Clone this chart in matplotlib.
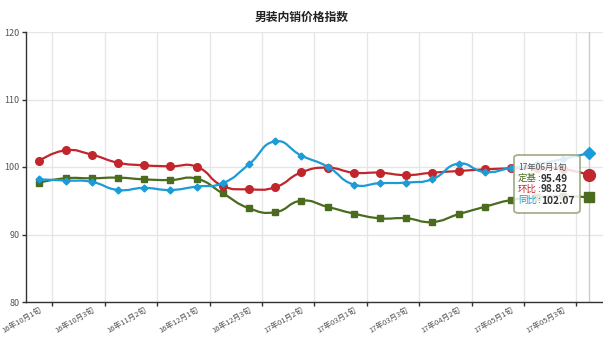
import numpy as np
import matplotlib.pyplot as plt
from matplotlib.path import Path
from matplotlib.patches import PathPatch, FancyBboxPatch

plt.rcParams['font.family'] = ['Noto Sans CJK SC', 'DejaVu Sans']

# ── 数据 ───────────────────────────────────────────────
periods = ['16年10月1旬', '16年10月2旬', '16年10月3旬', '16年11月1旬', '16年11月2旬',
           '16年11月3旬', '16年12月1旬', '16年12月2旬', '16年12月3旬', '17年01月1旬',
           '17年01月2旬', '17年01月3旬', '17年03月1旬', '17年03月2旬', '17年03月3旬',
           '17年04月1旬', '17年04月2旬', '17年04月3旬', '17年05月1旬', '17年05月2旬',
           '17年05月3旬', '17年06月1旬']
dingji = [97.70, 98.33, 98.33, 98.42, 98.17, 98.07, 98.27, 96.10, 93.90, 93.30, 95.00,
          94.10, 93.10, 92.40, 92.40, 91.85, 93.00, 94.10, 95.10, 95.50, 95.70, 95.49]
huanbi = [100.93, 102.47, 101.83, 100.64, 100.25, 100.10, 100.05, 97.20, 96.70, 97.00, 99.20,
          99.90, 99.16, 99.16, 98.80, 99.16, 99.40, 99.65, 99.80, 99.90, 99.70, 98.82]
tongbi = [98.17, 98.00, 97.80, 96.60, 96.90, 96.60, 97.10, 97.60, 100.40, 103.80, 101.70,
          100.05, 97.40, 97.60, 97.70, 98.20, 100.50, 99.26, 99.85, 100.40, 101.20, 102.07]

series = [('定基', dingji, '#4b6b1f', 's', 5.0, 7.5),
          ('环比', huanbi, '#c0262c', 'o', 5.5, 8.5),
          ('同比', tongbi, '#1b9bd7', 'D', 3.5, 6.0)]

PX_X, PX_Y = 26.2, 6.75   # 每个类目/每个单位对应的像素


def smooth_path(ys, smooth=0.5):
    """ECharts 风格的三次贝塞尔平滑曲线"""
    pts = np.column_stack([np.arange(len(ys)) * PX_X, np.asarray(ys) * PX_Y])
    n = len(pts)
    cin, cout = pts.copy(), pts.copy()
    for i in range(1, n - 1):
        prev, cur, nxt = pts[i - 1], pts[i], pts[i + 1]
        v = nxt - prev
        d0 = np.hypot(*(cur - prev))
        d1 = np.hypot(*(nxt - cur))
        r = d1 / (d0 + d1)
        cout[i] = cur + v * smooth * r
        cin[i] = cur - v * smooth * (1 - r)
    verts = [pts[0]]
    codes = [Path.MOVETO]
    for i in range(n - 1):
        verts += [cout[i], cin[i + 1], pts[i + 1]]
        codes += [Path.CURVE4] * 3
    verts = np.array(verts) / [PX_X, PX_Y]
    return Path(verts, codes)


fig = plt.figure(figsize=(6.03, 3.40), dpi=100)
ax = fig.add_axes([26.2 / 603, 1 - 302 / 340, 576.4 / 603, 270 / 340])

x = np.arange(len(periods))
for z, (name, vals, color, mk, ms, ms_last) in enumerate(series):
    ax.add_patch(PathPatch(smooth_path(vals), facecolor='none', edgecolor=color,
                           lw=1.6, zorder=3 + z))
    ax.plot(x[:-1], vals[:-1], ls='none', marker=mk, ms=ms, color=color, zorder=3 + z)
    ax.plot(x[-1], vals[-1], ls='none', marker=mk, ms=ms_last, color=color, zorder=3 + z)

# 轴指示线
ax.axvline(x[-1], color='#cccccc', lw=1, zorder=2)

ax.set_xlim(-0.5, len(periods) - 0.5)
ax.set_ylim(80, 120)
ax.set_yticks([80, 90, 100, 110, 120])
ax.tick_params(axis='y', labelsize=6.5, labelcolor='#555555', length=3, width=1,
               color='#333333', pad=2)

# 类目边界刻度 + 隔一个显示的标签
ax.set_xticks(np.arange(0.5, len(periods) - 0.5, 2))
ax.tick_params(axis='x', which='major', labelbottom=False, length=3, width=1, color='#333333')
ax.set_xticks(x[::2], [periods[i] for i in x[::2]], minor=True)
ax.tick_params(axis='x', which='minor', length=0, labelsize=5.5, labelcolor='#555555', pad=3)
for lbl in ax.get_xticklabels(minor=True):
    lbl.set_rotation(30)
    lbl.set_ha('right')
    lbl.set_rotation_mode('anchor')

ax.grid(True, which='major', color='#e6e6e6', lw=1, zorder=0)
ax.set_axisbelow(True)
for s in ['top', 'right']:
    ax.spines[s].set_visible(False)
for s in ['left', 'bottom']:
    ax.spines[s].set_color('#333333')
    ax.spines[s].set_linewidth(1)

fig.text(0.5, 1 - 17 / 340, '男装内销价格指数', ha='center', va='center',
         fontsize=8.5, fontweight='bold', color='#222222')

# 提示框
W, H = 603, 340
box = FancyBboxPatch((514 / W, 1 - 213 / H), 66 / W, 58 / H,
                     boxstyle='round,pad=0,rounding_size=0.008',
                     transform=fig.transFigure, facecolor='white', alpha=0.85,
                     edgecolor='#97a27a', lw=1.3, zorder=10)
fig.patches.append(box)
fig.text(518 / W, 1 - 167 / H, periods[-1], fontsize=6, color='#555555',
         va='center', ha='left', zorder=11)
for k, (name, vals, color, *_rest) in enumerate(series):
    yy = 1 - (178.5 + k * 11) / H
    fig.text(518 / W, yy, name, fontsize=6.8, color=color, va='center', ha='left', zorder=11)
    fig.text(537 / W, yy, ':', fontsize=6.8, color='#333333', va='center', ha='left', zorder=11)
    fig.text(541 / W, yy, f'{vals[-1]:.2f}', fontsize=7.3, fontweight='bold',
             color='#333333', va='center', ha='left', zorder=11)

fig.savefig('out.png', dpi=100)
